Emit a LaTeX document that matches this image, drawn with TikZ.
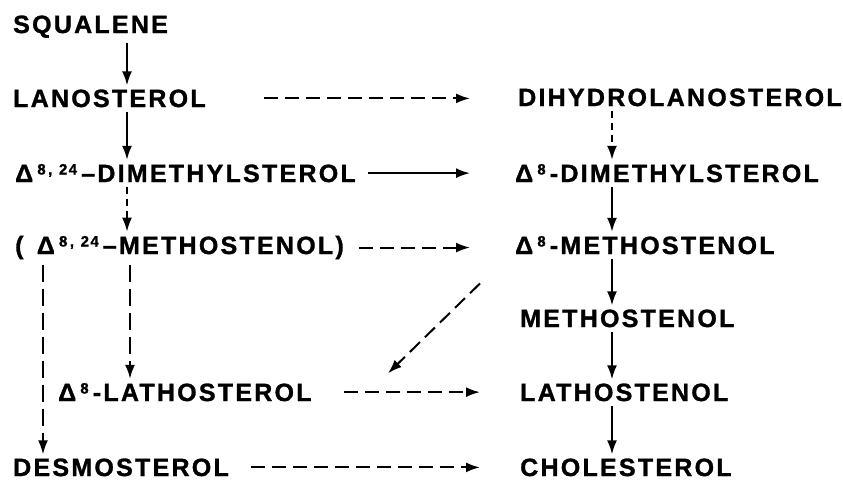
\documentclass[tikz,border=0pt]{standalone}
\usepackage{fontspec}
\setmainfont{Liberation Sans}[LetterSpace=9, BoldFeatures={FakeBold=1.2}]
\usepackage{tikz}
\usetikzlibrary{positioning, arrows.meta}
\tikzset{
    sterol/.style={anchor=base west, inner sep=0pt, font=\fontsize{25}{25}\selectfont\bfseries},
    mainstep/.style={-{Latex[length=14pt,width=10pt]}, line width=2pt},
    sidestep/.style={mainstep, dash pattern=on 14pt off 7pt},
    shortstep/.style={mainstep, dash pattern=on 7pt off 5pt},
    longstep/.style={mainstep, dash pattern=on 17pt off 7pt},
}
\newcommand{\dsup}[1]{\raisebox{7.5pt}{\fontsize{15}{15}\selectfont #1}}

\begin{document}
\begin{tikzpicture}[x=1pt, y=-1pt]
    \useasboundingbox (0,0) rectangle (843,480);
    \node[sterol] (squal) at (13,33)  {SQUALENE};
    \node[sterol] (lano)  at (13,107) {LANOSTEROL};
    \node[sterol] (dihyd) at (518,106) {DIHYDROLANOSTEROL};
    \node[sterol] (dimeL) at (15,182) {Δ\,\dsup{8\,,\;\,24}\,–DIMETHYLSTEROL};
    \node[sterol] (dimeR) at (515,182) {Δ\,\dsup{8}\,-DIMETHYLSTEROL};
    \node[sterol] (methL) at (15,254) {(\ \,Δ\,\dsup{8\,,\;\,24}\,–METHOSTENOL)};
    \node[sterol] (methR) at (515,254) {Δ\,\dsup{8}\,-METHOSTENOL};
    \node[sterol] (meth)  at (520,327) {METHOSTENOL};
    \node[sterol] (lathL) at (58,401) {Δ\,\dsup{8}\,-LATHOSTEROL};
    \node[sterol] (lathR) at (520,401) {LATHOSTENOL};
    \node[sterol] (desmo) at (13,476) {DESMOSTEROL};
    \node[sterol] (chol)  at (520,476) {CHOLESTEROL};
    \coordinate (lx) at (127,0);
    \coordinate (dx) at (43,0);
    \coordinate (rx) at (612,0);
    \draw[mainstep, shorten <=5pt, shorten >=4pt] (squal.south -| lx) -- (lano.north -| lx);
    \draw[mainstep, shorten <=5pt, shorten >=4pt] (lano.south -| lx) -- (dimeL.north -| lx);
    \draw[shortstep, shorten <=5pt, shorten >=4pt] (dimeL.south -| lx) -- (methL.north -| lx);
    \draw[longstep, shorten <=6pt, shorten >=4pt] ([xshift=3pt]methL.south -| lx) -- ([xshift=3pt]lathL.north -| lx);
    \draw[longstep, shorten <=6pt, shorten >=4pt] (methL.south -| dx) -- (desmo.north -| dx);
    \draw[shortstep, shorten <=5pt, shorten >=4pt] (dihyd.south -| rx) -- (dimeR.north -| rx);
    \draw[mainstep, shorten <=5pt, shorten >=4pt] (dimeR.south -| rx) -- (methR.north -| rx);
    \draw[mainstep, shorten <=5pt, shorten >=4pt] (methR.south -| rx) -- (meth.north -| rx);
    \draw[mainstep, shorten <=5pt, shorten >=4pt] (meth.south -| rx) -- (lathR.north -| rx);
    \draw[mainstep, shorten <=5pt, shorten >=4pt] (lathR.south -| rx) -- (chol.north -| rx);
    \draw[sidestep] ([xshift=58pt]lano.east) -- ([xshift=-48pt]lano.east -| dihyd.west);
    \draw[mainstep] ([xshift=12pt]dimeL.east) -- ([xshift=-45pt]dimeL.east -| dimeR.west);
    \draw[sidestep] ([xshift=15pt]methL.east) -- ([xshift=-45pt]methL.east -| methR.west);
    \draw[sidestep] ([xshift=32pt]lathL.east) -- ([xshift=-40pt]lathL.east -| lathR.west);
    \draw[sidestep] ([xshift=22pt]desmo.east) -- ([xshift=-40pt]desmo.east -| chol.west);
    \draw[sidestep] ([shift={(-35,29)}]methR.south west) -- ([shift={(-132,-10)}]lathR.north west);
\end{tikzpicture}
\end{document}
